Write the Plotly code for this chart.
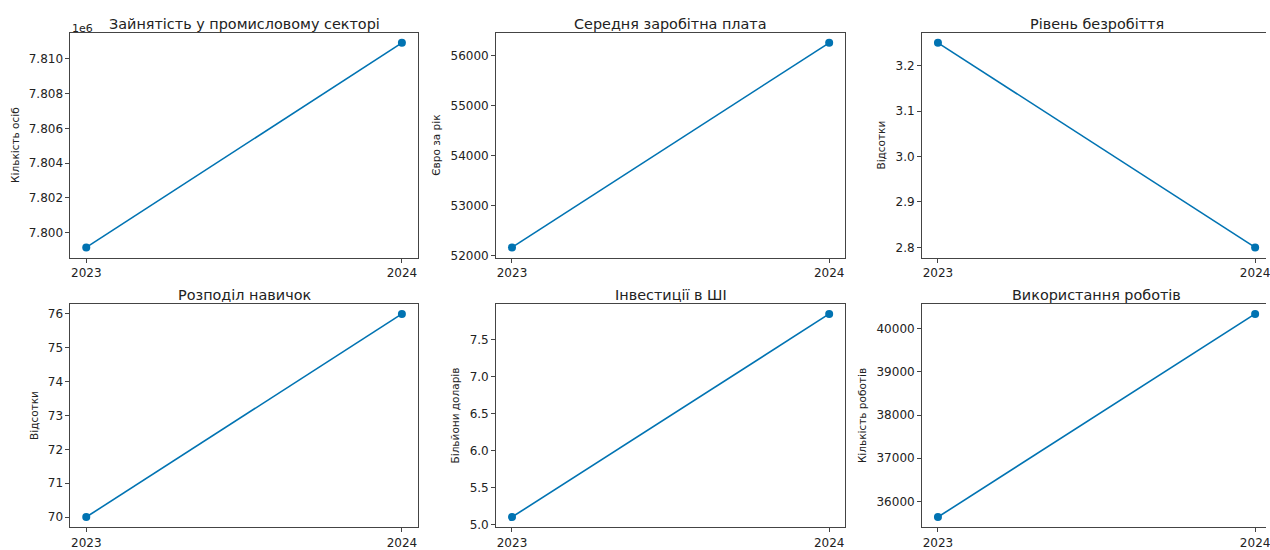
import plotly.graph_objects as go
from plotly.subplots import make_subplots

years = [2023, 2024]
year_labels = ["2023", "2024"]

titles = ["Зайнятість у промисловому секторі", "Середня заробітна плата", "Рівень безробіття",
          "Розподіл навичок", "Інвестиції в ШІ", "Використання роботів"]
ylabels = ["Кількість осіб", "Євро за рік", "Відсотки",
           "Відсотки", "Більйони доларів", "Кількість роботів"]

employment = [7799150, 7810930]
salary = [52164, 56257]
unemployment = [3.25, 2.80]
skills = [70, 76]
ai_invest = [5.10, 7.85]
robots = [35636, 40342]

emp_tickvals = [7.800e6, 7.802e6, 7.804e6, 7.806e6, 7.808e6, 7.810e6]
emp_ticktext = ["7.800", "7.802", "7.804", "7.806", "7.808", "7.810"]

series = [employment, salary, unemployment, skills, ai_invest, robots]
dticks = [None, 1000, 0.1, 1, 0.5, 1000]
formats = [None, "d", ".1f", "d", ".1f", "d"]

W, H = 1270, 550
# third column's axes box (925..1275) runs past the right edge of the picture
col_px = [(70.7, 419.0), (497.7, 847.7), (925.0, 1275.0)]
row_px = [(33.0, 261.0), (307.7, 534.0)]

LINE = "#0173B2"
FRAME = "#444444"
FONT = "DejaVu Sans"

fig = make_subplots(rows=2, cols=3)

for i, vals in enumerate(series):
    r, c = i // 3, i % 3
    fig.add_trace(go.Scatter(x=years, y=vals, mode="lines+markers",
                             line=dict(color=LINE, width=1.6),
                             marker=dict(color=LINE, size=8),
                             cliponaxis=False,
                             showlegend=False), row=r + 1, col=c + 1)
    x0, x1 = col_px[c]
    y0, y1 = row_px[r]
    ax_i = i + 1
    xname = "xaxis" if ax_i == 1 else f"xaxis{ax_i}"
    yname = "yaxis" if ax_i == 1 else f"yaxis{ax_i}"
    lo, hi = min(vals), max(vals)
    d = hi - lo
    yr = [lo - 0.05 * d, hi + 0.05 * d]
    full_w = x1 - x0
    x1_vis = min(x1, W)
    xr = [2022.95, 2022.95 + 1.1 * (x1_vis - x0) / full_w]
    common = dict(showgrid=False, zeroline=False, showline=True, linecolor=FRAME, linewidth=1,
                  ticks="outside", ticklen=4, tickcolor=FRAME, tickwidth=1,
                  ticklabeloverflow="allow",
                  tickfont=dict(family=FONT, size=12, color="#222222"))
    fig.layout[xname].update(domain=[x0 / W, x1_vis / W], range=xr, tickvals=years, ticktext=year_labels,
                             mirror=True, **common)
    yopts = dict(domain=[1 - y1 / H, 1 - y0 / H], range=yr, mirror=(x1 <= W),
                 title=dict(text=ylabels[i], font=dict(family=FONT, size=10.5, color="#222222"), standoff=7),
                 **common)
    if i == 0:
        yopts.update(tickvals=emp_tickvals, ticktext=emp_ticktext)
    else:
        yopts.update(dtick=dticks[i], tickformat=formats[i])
    fig.layout[yname].update(**yopts)
    fig.add_annotation(text=titles[i], xref="paper", yref="paper",
                       x=(x0 + x1) / 2 / W, y=1 - (y0 + 1) / H, xanchor="center", yanchor="bottom",
                       showarrow=False, font=dict(family=FONT, size=14.4, color="#222222"))

fig.add_annotation(text="1e6", xref="paper", yref="paper", x=70.7 / W, y=1 - 37 / H,
                   xanchor="left", yanchor="bottom", showarrow=False,
                   font=dict(family=FONT, size=11, color="#222222"))

fig.update_layout(width=W, height=H, margin=dict(l=0, r=0, t=0, b=0),
                  paper_bgcolor="white", plot_bgcolor="white", font=dict(family=FONT))

fig.write_html("out.html", config={"displayModeBar": False},
               post_script="document.body.style.margin='0';document.body.style.overflow='hidden';")
